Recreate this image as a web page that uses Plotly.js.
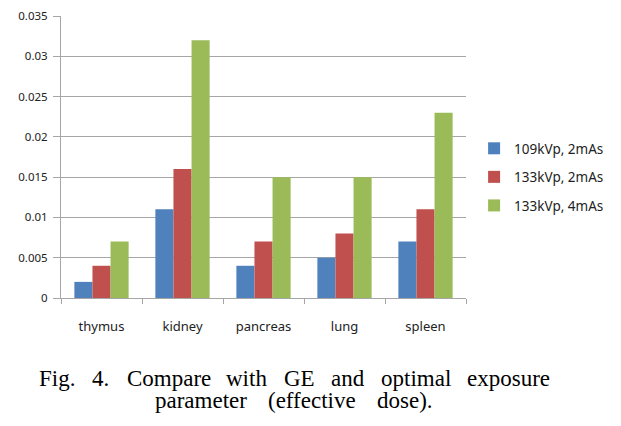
<!DOCTYPE html>
<html><head><meta charset="utf-8">
<script src="https://cdn.plot.ly/plotly-3.0.1.min.js"></script>
<style>body{margin:0;background:#fff}#c{width:621px;height:426px}</style>
</head><body><div id="c"></div>
<script>
const categories = ["thymus","kidney","pancreas","lung","spleen"];
const seriesNames = ["109kVp, 2mAs","133kVp, 2mAs","133kVp, 4mAs"];
const s109_2 = [0.002,0.011,0.004,0.005,0.007];
const s133_2 = [0.004,0.016,0.007,0.008,0.011];
const s133_4 = [0.007,0.032,0.015,0.015,0.023];
const yTicks = [0,0.005,0.01,0.015,0.02,0.025,0.03,0.035];
const yTickText = ["0","0.005","0.01","0.015","0.02","0.025","0.03","0.035"];
const colors = ["#4F81BD","#C0504D","#9BBB59"];
const caption1 = "Fig. 4. Compare with GE and optimal exposure";
const caption2 = "parameter (effective dose).";

const series = [s109_2,s133_2,s133_4];
const data = series.map((s,i)=>({type:"bar",x:categories,y:s,name:seriesNames[i],
  marker:{color:colors[i],line:{width:0}},legendgroup:"g"+i,hoverinfo:"none"}));

const L = 61, W = 413, B = 298, H = 282;
const capFont = {family:"Liberation Serif",size:23,color:"#000"};
const cv = document.createElement("canvas").getContext("2d");
cv.font = "23px 'Liberation Serif'";
const annotations = [];
function justify(line, xa, xb, ymid){
  const words = line.split(" ");
  const widths = words.map(w=>cv.measureText(w).width);
  const total = widths.reduce((a,b)=>a+b,0);
  const gap = (xb-xa-total)/(words.length-1);
  let cx = xa;
  words.forEach((w,i)=>{
    annotations.push({text:w,xref:"paper",yref:"paper",x:(cx-L)/W,y:(B-ymid)/H,
      xanchor:"left",yanchor:"middle",showarrow:false,font:capFont});
    cx += widths[i]+gap;
  });
}
justify(caption1, 37, 556, 378);
justify(caption2, 155, 437, 400);

const layout = {
  width:621,height:426,
  margin:{l:L,r:621-L-W,t:16,b:426-B,pad:0},
  paper_bgcolor:"#fff",plot_bgcolor:"#fff",
  font:{family:"Noto Sans, sans-serif",size:11,color:"#333"},
  bargap:0.33,bargroupgap:0,barmode:"group",
  showlegend:true,
  legend:{x:1.02,y:0.585,xanchor:"left",yanchor:"top",font:{size:13.5,color:"#222"},
    tracegroupgap:8,traceorder:"grouped",bgcolor:"rgba(0,0,0,0)",itemwidth:30},
  xaxis:{type:"category",showline:true,linecolor:"#a6a6a6",linewidth:1,
    ticks:"outside",tickson:"boundaries",ticklen:5,tickcolor:"#a6a6a6",
    showgrid:false,tickfont:{size:13,color:"#222"},ticklabelstandoff:16,fixedrange:true},
  yaxis:{range:[0,0.035],tickvals:yTicks,ticktext:yTickText,showline:true,
    linecolor:"#a6a6a6",ticks:"outside",ticklen:7,tickcolor:"#a6a6a6",
    gridcolor:"#a6a6a6",gridwidth:1,zeroline:false,tickfont:{size:11.5,color:"#222"},
    ticklabelstandoff:3},
  annotations:annotations
};
Plotly.newPlot("c",data,layout,{staticPlot:true});
</script></body></html>
